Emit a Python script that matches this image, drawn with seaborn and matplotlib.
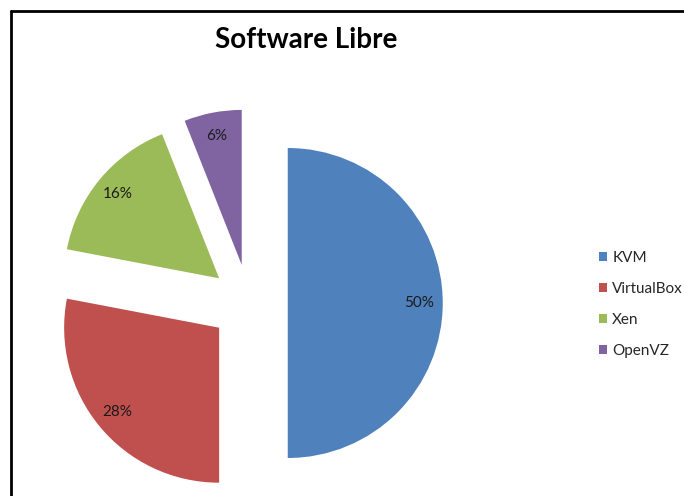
"""
Software Libre - exploded pie chart of free virtualization software.
"""

import matplotlib.pyplot as plt
from matplotlib.lines import Line2D
from matplotlib.patches import Patch
import seaborn as sns

# data
products = ["KVM", "VirtualBox", "Xen", "OpenVZ"]
shares = [50, 28, 16, 6]
colors = ["#4F81BD", "#C0504D", "#9BBB59", "#8064A2"]


def main():
    sns.set_theme(style="white")
    plt.rcParams["font.family"] = ["Lato", "DejaVu Sans"]
    palette = sns.color_palette(colors)

    fig = plt.figure(figsize=(6.84, 4.96), dpi=100)
    ax = fig.add_axes([0, 0, 1, 1])

    ax.pie(
        shares,
        colors=palette,
        startangle=90,
        counterclock=False,
        explode=[0.25] * len(shares),
        radius=1,
        autopct="%d%%",
        pctdistance=0.85,
        wedgeprops={"linewidth": 0},
        textprops={"fontsize": 11, "color": "#1a1a1a"},
    )

    # pie centre sits at (249, 303) px with a radius of 155 px
    r = 155
    ax.set_xlim(-249 / r, (684 - 249) / r)
    ax.set_ylim(-(496 - 303) / r, 303 / r)
    ax.set_aspect("auto")
    ax.axis("off")

    fig.text(306 / 684, 1 - 48 / 496, "Software Libre", ha="center",
             va="baseline", fontsize=20, fontweight="bold", color="black")

    handles = [Patch(facecolor=c, edgecolor="none") for c in palette]
    fig.legend(
        handles, products,
        loc="center left",
        bbox_to_anchor=(599 / 684, 1 - 304.5 / 496),
        frameon=False,
        fontsize=11,
        handlelength=0.52,
        handleheight=0.52,
        handletextpad=0.35,
        labelspacing=1.12,
        borderpad=0,
        borderaxespad=0,
    )

    # chart border (only top and left edges visible)
    top = 1 - 11 / 496
    left = 11 / 684
    fig.add_artist(Line2D([left, 1.0], [top, top], color="black", lw=2,
                          transform=fig.transFigure))
    fig.add_artist(Line2D([left, left], [0.0, top], color="black", lw=2,
                          transform=fig.transFigure))

    fig.savefig("out.png", dpi=100)
    plt.close(fig)


if __name__ == "__main__":
    main()
